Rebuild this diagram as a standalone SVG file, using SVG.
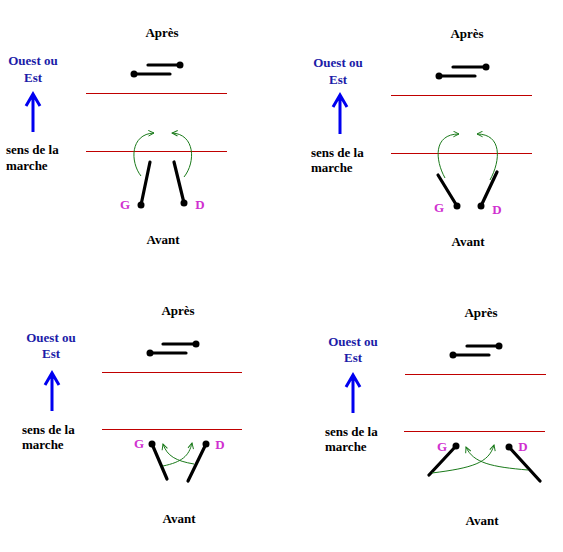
<svg xmlns="http://www.w3.org/2000/svg" width="563" height="552" viewBox="0 0 563 552">
<style>
text{font-family:"Liberation Serif","Times New Roman",serif;font-weight:bold;font-size:13px;fill:#000}
.t{text-anchor:middle}
.b{fill:#1c1ca8}
.m{fill:#d030d0}
.red{stroke:#c00000;stroke-width:1;fill:none}
.leg{stroke:#000;stroke-width:3.2;stroke-linecap:round;fill:none}
.dot{fill:#000}
.g{stroke:#1a7a1a;stroke-width:1;fill:none;marker-end:url(#ga)}
.ba{stroke:#0000f0;stroke-width:3;fill:none}
</style>
<defs>
<marker id="ga" viewBox="0 0 10 10" refX="9" refY="5" markerWidth="7" markerHeight="7" markerUnits="userSpaceOnUse" orient="auto">
<path d="M1,1 L9,5 L1,9" fill="none" stroke="#1a7a1a" stroke-width="1.4"/>
</marker>
</defs>
<rect width="563" height="552" fill="#fff"/>

<!-- Panel 1 -->
<g id="p1">
<text class="t" x="162" y="37">Après</text>
<text class="t b" x="33" y="65">Ouest ou</text>
<text class="t b" x="33" y="82">Est</text>
<path class="ba" d="M33,132 V95 M26,106 L33,94 L40,106"/>
<text x="6" y="154">sens de la</text>
<text x="6" y="170">marche</text>
<line class="red" x1="86" y1="93.5" x2="227" y2="93.5"/>
<line class="red" x1="86" y1="151.5" x2="227" y2="151.5"/>
<path class="leg" d="M148,65 H180 M134,74 H170"/>
<circle class="dot" cx="180" cy="65" r="3.5"/><circle class="dot" cx="134" cy="74" r="3.5"/>
<path class="leg" d="M150,162 L141,205 M174,162 L184,203"/>
<circle class="dot" cx="141" cy="205" r="3.5"/><circle class="dot" cx="184" cy="203" r="3.5"/>
<text class="t m" x="125" y="209">G</text>
<text class="t m" x="200" y="209">D</text>
<text class="t" x="163" y="244">Avant</text>
<path class="g" d="M141,176 C130,162 130,134 154,133"/>
<path class="g" d="M184,177 C196,162 195,134 172,133"/>
</g>

<!-- Panel 2 -->
<g id="p2">
<text class="t" x="467" y="38">Après</text>
<text class="t b" x="338" y="67">Ouest ou</text>
<text class="t b" x="338" y="84">Est</text>
<path class="ba" d="M340,134 V96 M333,107 L340,95 L347,107"/>
<text x="311" y="157">sens de la</text>
<text x="311" y="172">marche</text>
<line class="red" x1="391" y1="95.5" x2="532" y2="95.5"/>
<line class="red" x1="391" y1="153.5" x2="532" y2="153.5"/>
<path class="leg" d="M453,67 H486 M439,76 H475"/>
<circle class="dot" cx="486" cy="67" r="3.5"/><circle class="dot" cx="439" cy="76" r="3.5"/>
<path class="leg" d="M438,175 L457,206 M481,206 L497,172"/>
<circle class="dot" cx="457" cy="206" r="3.5"/><circle class="dot" cx="481" cy="206" r="3.5"/>
<text class="t m" x="439" y="212">G</text>
<text class="t m" x="497" y="214">D</text>
<text class="t" x="468" y="246">Avant</text>
<path class="g" d="M445,178 C435,160 433,134 459,134"/>
<path class="g" d="M490,180 C501,160 502,134 477,134"/>
</g>

<!-- Panel 3 -->
<g id="p3">
<text class="t" x="178" y="315">Après</text>
<text class="t b" x="51" y="342">Ouest ou</text>
<text class="t b" x="51" y="358">Est</text>
<path class="ba" d="M52,411 V374 M45,385 L52,373 L59,385"/>
<text x="22" y="434">sens de la</text>
<text x="22" y="449">marche</text>
<line class="red" x1="102" y1="372.5" x2="242" y2="372.5"/>
<line class="red" x1="102" y1="429.5" x2="242" y2="429.5"/>
<path class="leg" d="M163,344 H196 M150,353 H186"/>
<circle class="dot" cx="196" cy="344" r="3.5"/><circle class="dot" cx="150" cy="353" r="3.5"/>
<path class="leg" d="M152,444 L167,479 M206,444 L188,481"/>
<circle class="dot" cx="152" cy="444" r="3.5"/><circle class="dot" cx="206" cy="444" r="3.5"/>
<text class="t m" x="139" y="448">G</text>
<text class="t m" x="220" y="449">D</text>
<text class="t" x="179" y="523">Avant</text>
<path class="g" d="M163,466 C182,462 189,456 192,443"/>
<path class="g" d="M194,464 C176,461 167,456 163,444"/>
</g>

<!-- Panel 4 -->
<g id="p4">
<text class="t" x="481" y="317">Après</text>
<text class="t b" x="353" y="346">Ouest ou</text>
<text class="t b" x="353" y="362">Est</text>
<path class="ba" d="M353,413 V376 M346,387 L353,375 L360,387"/>
<text x="325" y="436">sens de la</text>
<text x="325" y="451">marche</text>
<line class="red" x1="405" y1="374.5" x2="546" y2="374.5"/>
<line class="red" x1="404" y1="431.5" x2="545" y2="431.5"/>
<path class="leg" d="M467,346 H499 M453,355 H489"/>
<circle class="dot" cx="499" cy="346" r="3.5"/><circle class="dot" cx="453" cy="355" r="3.5"/>
<path class="leg" d="M456,446 L429,475 M509,447 L540,481"/>
<circle class="dot" cx="456" cy="446" r="3.5"/><circle class="dot" cx="509" cy="447" r="3.5"/>
<text class="t m" x="442" y="451">G</text>
<text class="t m" x="523" y="451">D</text>
<text class="t" x="482" y="525">Avant</text>
<path class="g" d="M432,473 C472,468 489,463 494,445"/>
<path class="g" d="M528,470 C492,467 473,463 466,447"/>
</g>
</svg>
